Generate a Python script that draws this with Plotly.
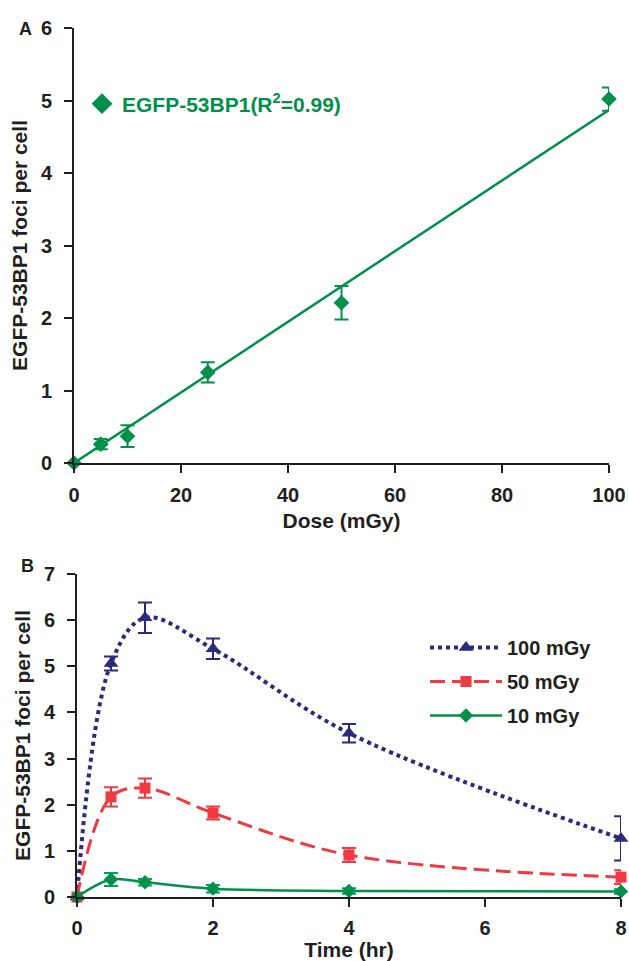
import plotly.graph_objects as go

# ---------------- Panel A data ----------------
dose = [0, 5, 10, 25, 50, 100]
foci_a = [0, 0.26, 0.37, 1.25, 2.21, 5.02]
err_a = [0, 0.07, 0.15, 0.14, 0.23, 0.16]
fit_x = [0, 100]
fit_y = [0, 4.87]
dose_ticks = [0, 20, 40, 60, 80, 100]
foci_ticks_a = [0, 1, 2, 3, 4, 5, 6]

# ---------------- Panel B data ----------------
time_hr = [0, 0.5, 1, 2, 4, 8]
foci_100 = [0, 5.06, 6.05, 5.38, 3.55, 1.27]
err_100 = [0, 0.15, 0.33, 0.22, 0.2, 0.48]
foci_50 = [0, 2.17, 2.36, 1.82, 0.91, 0.43]
err_50 = [0, 0.21, 0.21, 0.14, 0.15, 0.15]
foci_10 = [0, 0.38, 0.32, 0.18, 0.13, 0.12]
err_10 = [0, 0.14, 0.07, 0.08, 0.06, 0.05]
time_ticks = [0, 2, 4, 6, 8]
foci_ticks_b = [0, 1, 2, 3, 4, 5, 6, 7]

GREEN = "#00904A"
NAVY = "#2C2A7A"
RED = "#EE3A40"
INK = "#231F20"
FONT = "Liberation Sans"

W, H = 629, 961

def px_x(p):
    return p / W

def px_y(p):
    return 1 - p / H

fig = go.Figure()

# Panel A
fig.add_trace(go.Scatter(
    x=fit_x, y=fit_y, mode="lines", line=dict(color=GREEN, width=2.5),
    showlegend=False, xaxis="x", yaxis="y", hoverinfo="skip", cliponaxis=False))
fig.add_trace(go.Scatter(
    x=dose, y=foci_a, mode="markers", name="EGFP-53BP1",
    marker=dict(symbol="diamond", size=12, color=GREEN),
    error_y=dict(type="data", array=err_a, color=GREEN, thickness=2, width=7),
    xaxis="x", yaxis="y", showlegend=False, cliponaxis=False))
# legend entry for panel A (larger symbol, no data points)
fig.add_trace(go.Scatter(
    x=[None], y=[None], mode="markers", name="EGFP-53BP1(R<sup>2</sup>=0.99)",
    marker=dict(symbol="diamond", size=16, color=GREEN),
    xaxis="x", yaxis="y", legend="legend"))

# Panel B
fig.add_trace(go.Scatter(
    x=time_hr, y=foci_100, mode="lines+markers", name="100 mGy",
    line=dict(color=NAVY, width=4, dash="4px,4px", shape="spline", smoothing=1.0),
    marker=dict(symbol="triangle-up", size=13, color=NAVY),
    error_y=dict(type="data", array=err_100, color=NAVY, thickness=2, width=7),
    xaxis="x2", yaxis="y2", legend="legend2", legendgroup="g1", cliponaxis=False))
fig.add_trace(go.Scatter(
    x=time_hr, y=foci_50, mode="lines+markers", name="50 mGy",
    line=dict(color=RED, width=3, dash="15px,7px", shape="spline", smoothing=1.0),
    marker=dict(symbol="square", size=11, color=RED),
    error_y=dict(type="data", array=err_50, color=RED, thickness=2, width=7),
    xaxis="x2", yaxis="y2", legend="legend2", legendgroup="g2", cliponaxis=False))
fig.add_trace(go.Scatter(
    x=time_hr, y=foci_10, mode="lines+markers", name="10 mGy",
    line=dict(color=GREEN, width=2.5, shape="spline", smoothing=1.0),
    marker=dict(symbol="diamond", size=11, color=GREEN),
    error_y=dict(type="data", array=err_10, color="#00A06A", thickness=2, width=7),
    xaxis="x2", yaxis="y2", legend="legend2", legendgroup="g3", cliponaxis=False))

axis_common = dict(
    showgrid=False, zeroline=False, showline=True, linecolor=INK, linewidth=2,
    ticks="outside", ticklen=8, tickwidth=2, tickcolor=INK,
    tickfont=dict(family=FONT, size=20, color=INK, weight="bold"),
    title_font=dict(family=FONT, size=21, color=INK, weight="bold"),
)

fig.update_layout(
    width=W, height=H,
    margin=dict(l=0, r=0, t=0, b=0, autoexpand=False),
    paper_bgcolor="white", plot_bgcolor="white",
    font=dict(family=FONT, color=INK),
    xaxis=dict(domain=[px_x(74), px_x(609)], range=[0, 100], tickvals=dose_ticks,
               anchor="y", title=dict(text="Dose (mGy)", standoff=8),
               ticklabelstandoff=5, **axis_common),
    yaxis=dict(domain=[px_y(463), px_y(28)], range=[0, 6], tickvals=foci_ticks_a,
               anchor="x", title=dict(text="EGFP-53BP1 foci per cell", standoff=8),
               ticklabelstandoff=8, **axis_common),
    xaxis2=dict(domain=[px_x(77), px_x(621)], range=[0, 8], tickvals=time_ticks,
                anchor="y2", title=dict(text="Time (hr)", standoff=2),
                ticklabelstandoff=4, **axis_common),
    yaxis2=dict(domain=[px_y(897), px_y(574)], range=[0, 7], tickvals=foci_ticks_b,
                anchor="x2", title=dict(text="EGFP-53BP1 foci per cell", standoff=8),
                ticklabelstandoff=8, **axis_common),
    legend=dict(x=px_x(82), y=px_y(104), xanchor="left", yanchor="middle",
                bgcolor="rgba(0,0,0,0)",
                font=dict(family=FONT, size=21, color=GREEN, weight="bold"),
                itemsizing="trace"),
    legend2=dict(x=px_x(425), y=px_y(628), xanchor="left", yanchor="top",
                 bgcolor="rgba(0,0,0,0)",
                 font=dict(family=FONT, size=20, color=INK, weight="bold"),
                 traceorder="grouped", tracegroupgap=5, itemwidth=72),
    annotations=[
        dict(text="A", x=px_x(17), y=px_y(17), xref="paper", yref="paper",
             showarrow=False, font=dict(family=FONT, size=18, color=INK, weight="bold")),
        dict(text="B", x=px_x(19), y=px_y(566), xref="paper", yref="paper",
             showarrow=False, font=dict(family=FONT, size=18, color=INK, weight="bold")),
    ],
)

fig.write_html("out.html", config={"displayModeBar": False},
               post_script="document.body.style.margin='0';")
